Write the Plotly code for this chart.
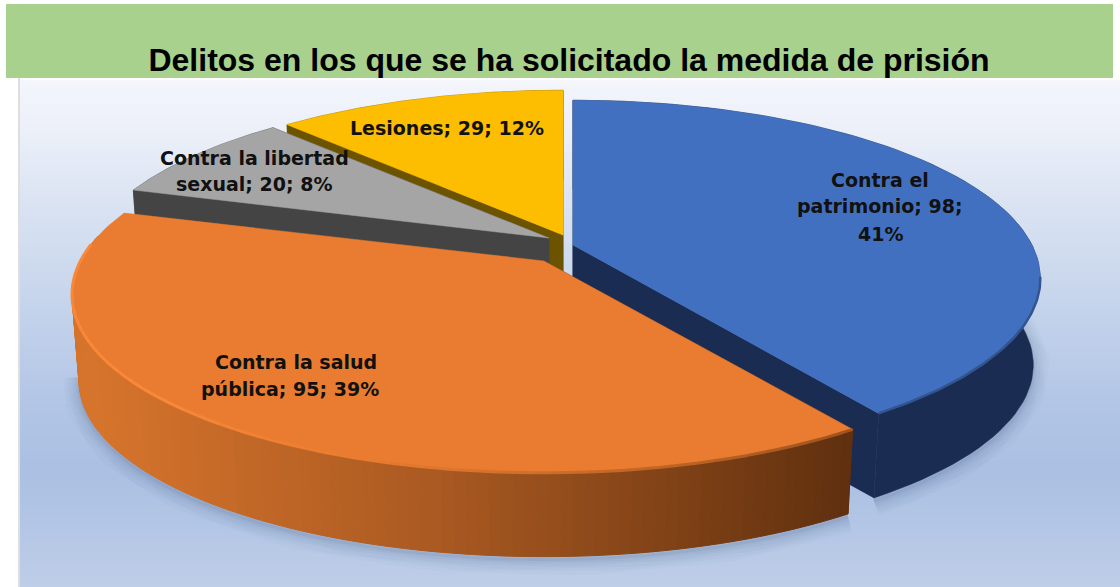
import numpy as np
import plotly.graph_objects as go

# ---- data ----
categories = ["Contra el patrimonio", "Contra la salud pública", "Contra la libertad sexual", "Lesiones"]
values = [98, 95, 20, 29]
percents = [41, 39, 8, 12]
title = "Delitos en los que se ha solicitado la medida de prisión"

# ---- style ----
top_colors = ["#4270c0", "#e97c30", "#a5a5a5", "#fdbd00"]
side_colors = ["#1a2c52", None, "#444444", "#6b5300"]
apex = [(573, 245), (544, 261), (549, 238), (563, 235)]
x_scale = [1.0, 1.01, 1.0, 1.0]
RX, RY, K, DEPTH, BOTTOM = 459.0, 172.0, 0.188, 87.0, 0.985

total = sum(values)
edges = np.cumsum([0] + values) / total * 2 * np.pi


def rim(th, i, bottom=False):
    a = apex[i]
    X, Y = np.sin(th), np.cos(th)
    w = 1 + K * Y
    dx, dy = RX * x_scale[i] * X / w, -RY * Y / w
    if bottom:
        return a[0] + dx * BOTTOM, a[1] + dy * BOTTOM + DEPTH
    return a[0] + dx, a[1] + dy


def poly(xs, ys, color, lw=0.5):
    return go.Scatter(x=list(xs) + [xs[0]], y=list(ys) + [ys[0]], mode="lines", fill="toself",
                      fillcolor=color, line=dict(color=color, width=lw),
                      hoverinfo="skip", showlegend=False)


def mix(c1, c2, t):
    return "rgb(%d,%d,%d)" % tuple(c1[i] + (c2[i] - c1[i]) * t for i in range(3))


fig = go.Figure()

# backdrop gradient
grad_y = [80, 130, 200, 300, 400, 470, 530, 587]
grad_c = ["#f4f6fc", "#ecf0f9", "#dbe4f3", "#c6d5ec", "#b3c6e6", "#abc0e3", "#b5c7e6", "#bfcfe9"]
fy = np.linspace(80, 587, 120)
hexrgb = lambda h: [int(h[i:i + 2], 16) for i in (1, 3, 5)]
rgbs = np.array([hexrgb(c) for c in grad_c], float)
for i in range(len(fy) - 1):
    c = [np.interp(fy[i], grad_y, rgbs[:, j]) for j in range(3)]
    fig.add_shape(type="rect", x0=20, x1=1120, y0=fy[i], y1=fy[i + 1] + 1, layer="below",
                  line_width=0, fillcolor="rgb(%d,%d,%d)" % tuple(c))
fig.add_shape(type="rect", x0=18, x1=20, y0=78, y1=587, layer="below", line_width=0, fillcolor="#dedede")
fig.add_shape(type="rect", x0=6, x1=1113, y0=4, y1=78, layer="below", line_width=0, fillcolor="#a9d18e")

# soft shadow under the front rim
for lw, op in [(32, 0.025), (26, 0.03), (20, 0.035), (14, 0.04), (8, 0.05), (3, 0.08)]:
    for idx, (t0, t1) in {0: (edges[0] + 1.5, edges[1]), 1: (edges[1], edges[2] - 0.45)}.items():
        th = np.linspace(t0, t1, 60)
        x, y = rim(th, idx, True)
        fig.add_trace(go.Scatter(x=x, y=y + 3, mode="lines", hoverinfo="skip", showlegend=False,
                                 line=dict(color="rgba(60,80,120,%g)" % op, width=lw)))


def walls(i, color):
    a = apex[i]
    for t in (edges[i], edges[i + 1]):
        x1, y1 = rim(t, i)
        x2, y2 = rim(t, i, True)
        fig.add_trace(poly([a[0], x1, x2, a[0]], [a[1], y1, y2, a[1] + DEPTH], color))
    th = np.linspace(edges[i], edges[i + 1], 80)
    xt, yt = rim(th, i)
    xb, yb = rim(th[::-1], i, True)
    fig.add_trace(poly(np.r_[xt, xb], np.r_[yt, yb], color))


def top(i):
    th = np.linspace(edges[i], edges[i + 1], 120)
    x, y = rim(th, i)
    fig.add_trace(poly(np.r_[apex[i][0], x], np.r_[apex[i][1], y], top_colors[i]))


# back slices first
walls(3, side_colors[3])
walls(2, side_colors[2])
top(2)
top(3)

# blue slice
walls(0, side_colors[0])
top(0)
th = np.linspace(1.75, edges[1], 60)
x, y = rim(th, 0)
fig.add_trace(go.Scatter(x=x, y=y, mode="lines", hoverinfo="skip", showlegend=False,
                         line=dict(color="#32548f", width=2.5)))

# orange slice: rim shaded from left to right
a = apex[1]
x1, y1 = rim(edges[1], 1)
x2, y2 = rim(edges[1], 1, True)
fig.add_trace(poly([a[0], x1, x2, a[0]], [a[1], y1, y2, a[1] + DEPTH], "#62300f"))
n = 110
ths = np.linspace(edges[1], edges[2] - 0.15, n + 1)
light, mid, dark = (214, 116, 44), (170, 90, 34), (96, 48, 15)
xs_left = rim(ths[-1], 1)[0]
for k in range(n):
    t = np.array([ths[k], ths[k + 1]])
    xt, yt = rim(t, 1)
    xb, yb = rim(t[::-1], 1, True)
    u = np.clip((x1 - xt.mean()) / (x1 - xs_left), 0, 1)
    col = mix(dark, mid, u / 0.55) if u < 0.55 else mix(mid, light, (u - 0.55) / 0.45)
    fig.add_trace(poly(np.r_[xt, xb], np.r_[yt, yb], col, lw=1))
top(1)

# lit bevel on the left of the rim, soft edge to the right
m = 70
thb = np.linspace(edges[1], edges[2] - 0.2, m + 1)
orange, bevel, soft = (233, 124, 48), (249, 136, 58), (160, 84, 30)
for k in range(m):
    t = np.array([thb[k], thb[k + 1]])
    x, y = rim(t, 1)
    u = k / (m - 1)
    col = mix(soft, orange, u / 0.4) if u < 0.4 else mix(orange, bevel, min((u - 0.4) / 0.2, 1))
    fig.add_trace(go.Scatter(x=x, y=y, mode="lines", hoverinfo="skip", showlegend=False,
                             line=dict(color=col, width=3)))

# labels, one line at a time
lines = [
    [("Contra el", 880, 180), ("patrimonio; %d;" % values[0], 880, 206), ("%d%%" % percents[0], 880, 234)],
    [("Contra la salud", 296, 362), ("pública; %d; %d%%" % (values[1], percents[1]), 290, 389)],
    [("Contra la libertad", 254, 158), ("sexual; %d; %d%%" % (values[2], percents[2]), 254, 184)],
    [("Lesiones; %d; %d%%" % (values[3], percents[3]), 447, 128)],
]
for grp in lines:
    for txt, lx, ly in grp:
        fig.add_annotation(x=lx, y=ly, text=txt, showarrow=False, xanchor="center", yanchor="middle",
                           font=dict(family="DejaVu Sans", size=19, color="#111111", weight="bold"))

fig.update_layout(
    width=1120, height=587, margin=dict(l=0, r=0, t=0, b=0),
    paper_bgcolor="white", plot_bgcolor="rgba(0,0,0,0)", showlegend=False,
    title=dict(text=f"<b>{title}</b>", x=569 / 1120, y=1 - 60 / 587, xanchor="center", yanchor="middle",
               font=dict(family="Liberation Sans", size=32, color="black")),
    xaxis=dict(visible=False, range=[0, 1120], fixedrange=True),
    yaxis=dict(visible=False, range=[587, 0], fixedrange=True),
)
fig.write_html("out.html", config=dict(displayModeBar=False),
               post_script="document.body.style.margin='0';")
